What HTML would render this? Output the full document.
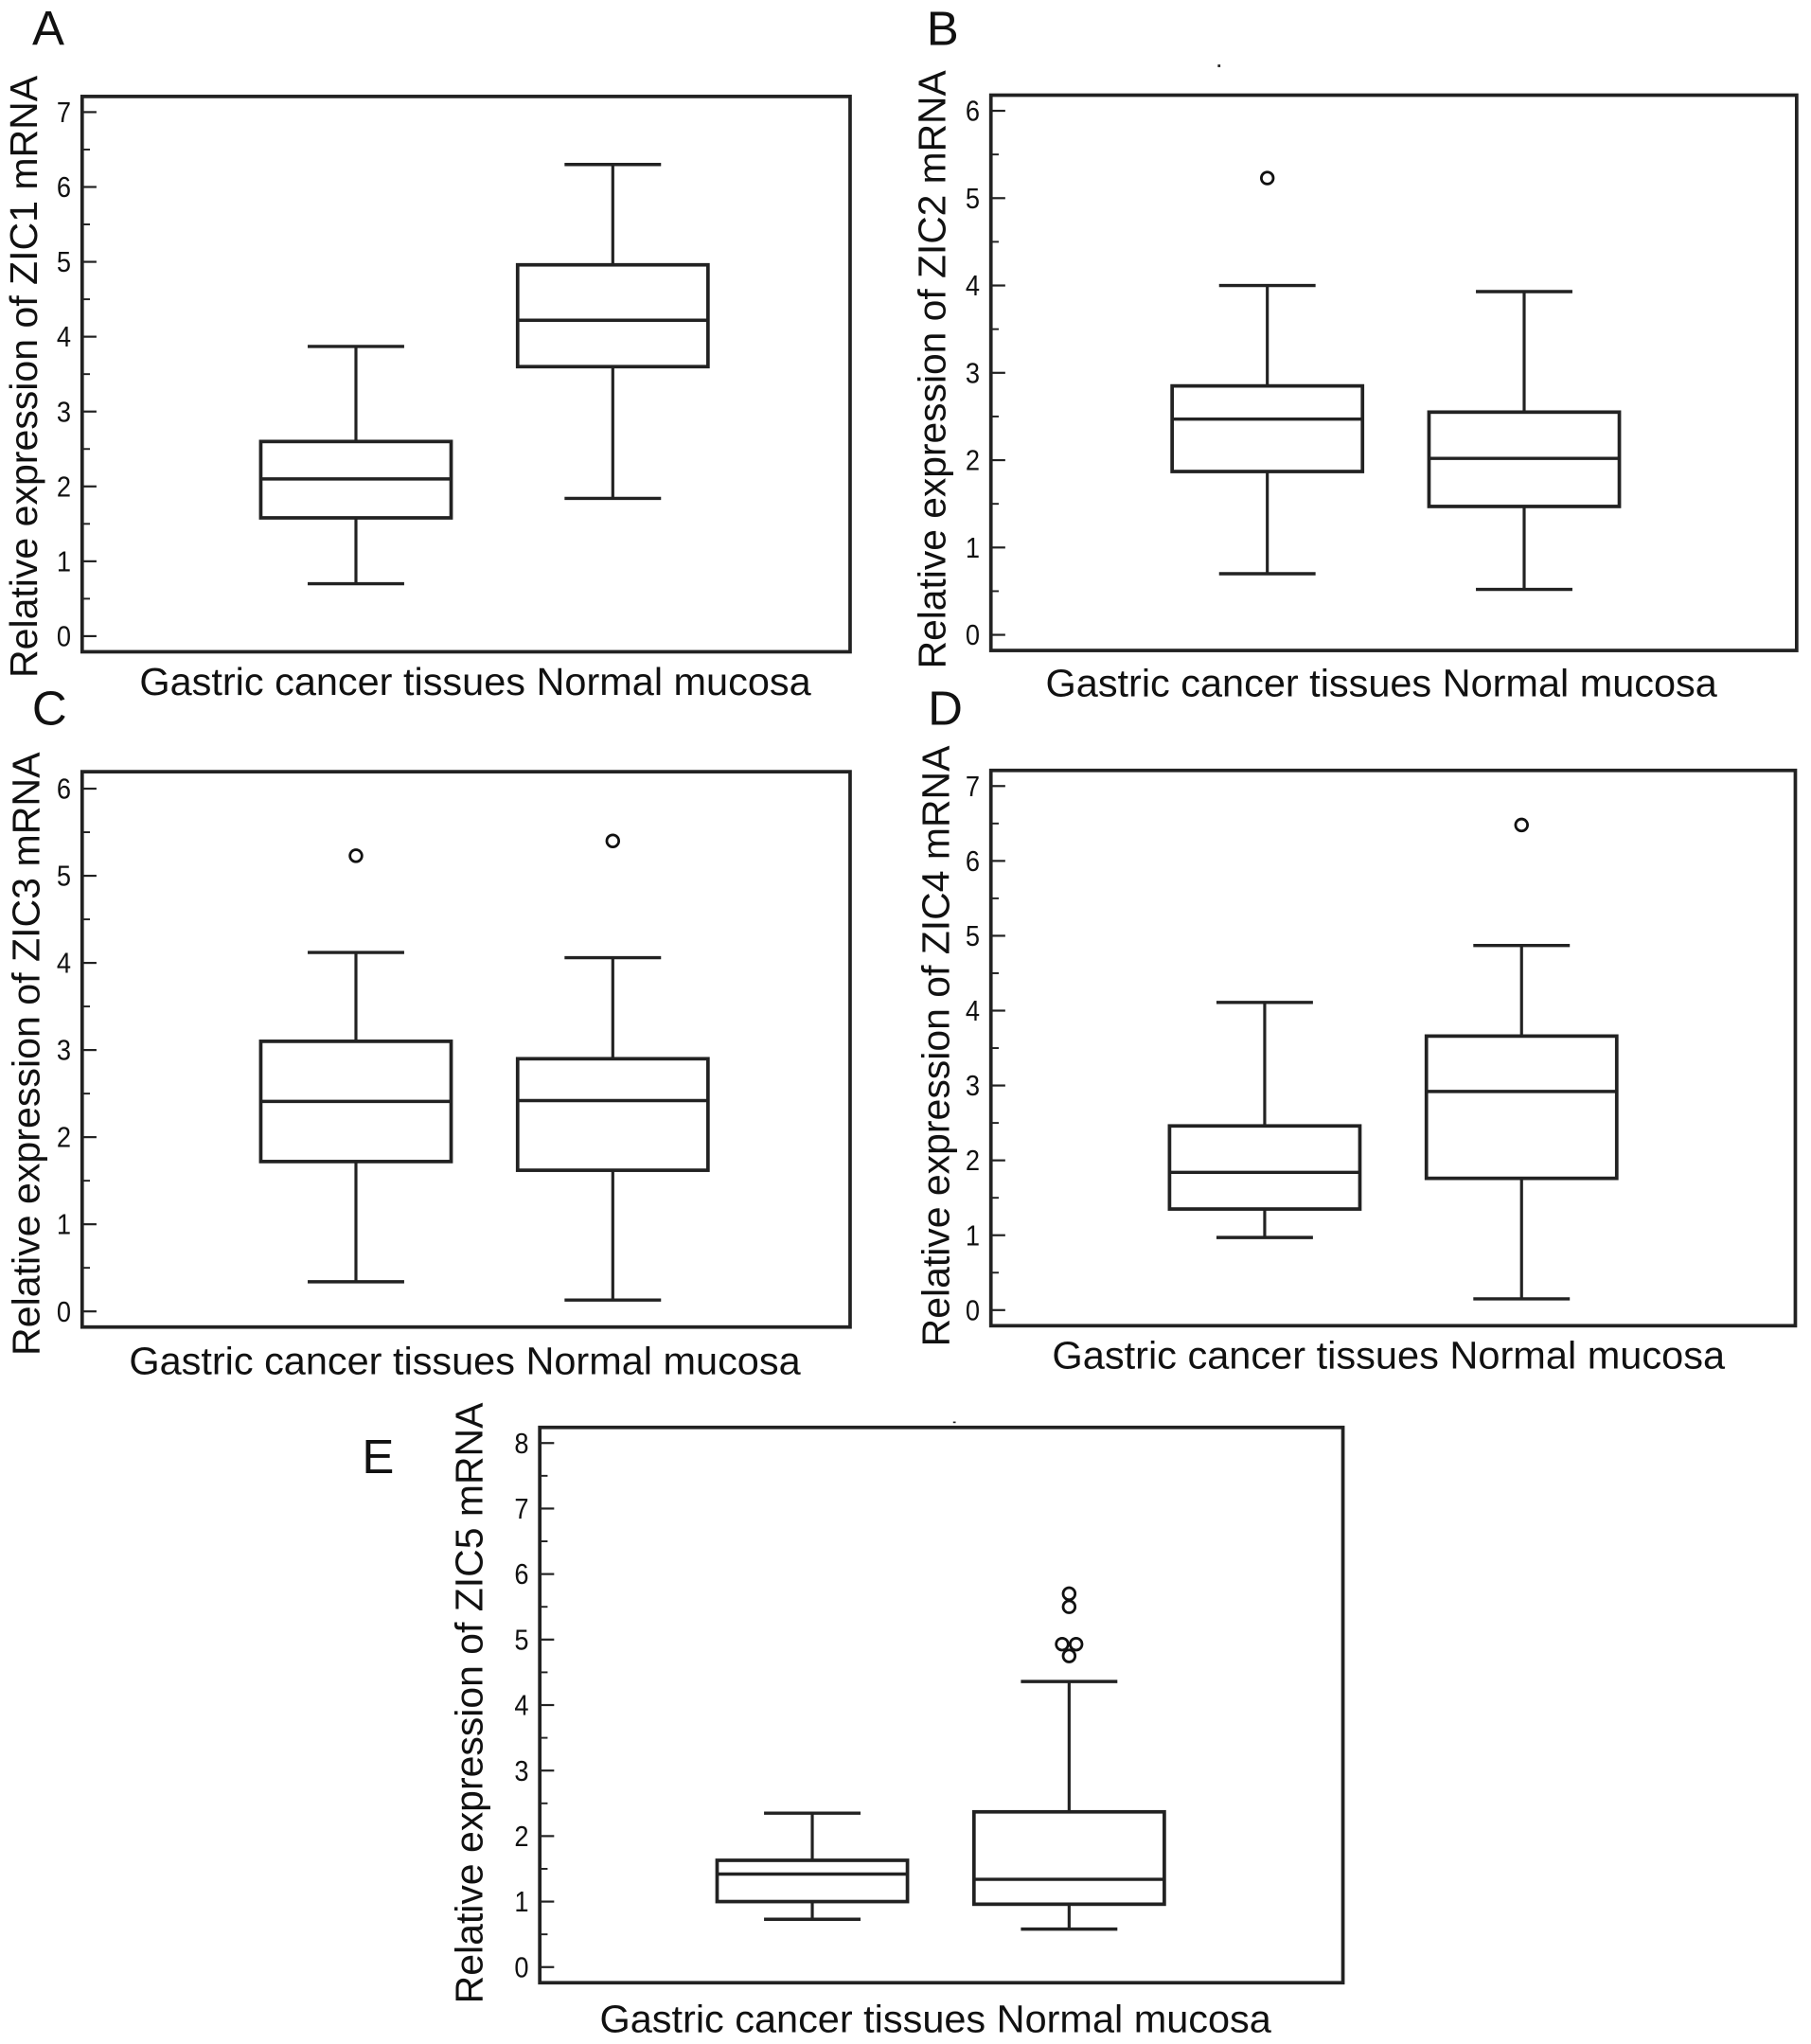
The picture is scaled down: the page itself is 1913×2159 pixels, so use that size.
<!DOCTYPE html>
<html lang="en">
<head>
<meta charset="utf-8">
<title>ZIC family mRNA expression box plots</title>
<style>
html,body{margin:0;padding:0;background:#fff;width:1913px;height:2159px;overflow:hidden}
svg{display:block}
text{font-family:"Liberation Sans",Arial,sans-serif;fill:#111}
</style>
</head>
<body>
<svg id="figure" xmlns="http://www.w3.org/2000/svg" width="1913" height="2159" viewBox="0 0 1389 1568" preserveAspectRatio="none"></svg>
<script>
// ---- data ----
const categories = ["Gastric cancer tissues", "Normal mucosa"];

const ticksA = [0, 1, 2, 3, 4, 5, 6, 7];
const minA = [0.70, 1.84];
const q1A = [1.58, 3.60];
const medianA = [2.10, 4.22];
const q3A = [2.60, 4.96];
const maxA = [3.87, 6.30];
const outliersA = [[], []];

const ticksB = [0, 1, 2, 3, 4, 5, 6];
const minB = [0.70, 0.52];
const q1B = [1.87, 1.47];
const medianB = [2.47, 2.02];
const q3B = [2.85, 2.55];
const maxB = [4.00, 3.93];
const outliersB = [[5.23], []];

const ticksC = [0, 1, 2, 3, 4, 5, 6];
const minC = [0.34, 0.13];
const q1C = [1.72, 1.62];
const medianC = [2.41, 2.42];
const q3C = [3.10, 2.90];
const maxC = [4.12, 4.06];
const outliersC = [[5.23], [5.40]];

const ticksD = [0, 1, 2, 3, 4, 5, 6, 7];
const minD = [0.97, 0.15];
const q1D = [1.35, 1.76];
const medianD = [1.84, 2.92];
const q3D = [2.46, 3.66];
const maxD = [4.11, 4.87];
const outliersD = [[], [6.48]];

const ticksE = [0, 1, 2, 3, 4, 5, 6, 7, 8];
const minE = [0.73, 0.58];
const q1E = [1.00, 0.96];
const medianE = [1.42, 1.34];
const q3E = [1.63, 2.37];
const maxE = [2.35, 4.36];
const outliersE = [[], [4.75, 4.93, 4.93, 5.50, 5.70]];

const panels = [
  {id:"a", letter:"A", gene:"ZIC1", ticks:ticksA, min:minA, q1:q1A, med:medianA, q3:q3A, max:maxA, out:outliersA,
   left:63, right:652, top:74, bottom:500, y0:488, yTop:86, cx:[273,470], letterX:37, letterY:34.5,
   yLabelX:28.5, yLabelStart:520, yLabelEnd:58, xLabelStart:107, xLabelEnd:622, xLabelY:533},
  {id:"b", letter:"B", gene:"ZIC2", ticks:ticksB, min:minB, q1:q1B, med:medianB, q3:q3B, max:maxB, out:outliersB,
   left:760, right:1378, top:73, bottom:499, y0:487, yTop:85, cx:[972,1169], letterX:723, letterY:34.5,
   yLabelX:725, yLabelStart:513, yLabelEnd:54, xLabelStart:802, xLabelEnd:1317, xLabelY:534},
  {id:"c", letter:"C", gene:"ZIC3", ticks:ticksC, min:minC, q1:q1C, med:medianC, q3:q3C, max:maxC, out:outliersC,
   left:63, right:652, top:592, bottom:1018, y0:1006, yTop:605, cx:[273,470], letterX:38, letterY:556,
   yLabelX:30, yLabelStart:1040, yLabelEnd:577, xLabelStart:99, xLabelEnd:614, xLabelY:1054},
  {id:"d", letter:"D", gene:"ZIC4", ticks:ticksD, min:minD, q1:q1D, med:medianD, q3:q3D, max:maxD, out:outliersD,
   left:760, right:1377, top:591, bottom:1017, y0:1005, yTop:603, cx:[970,1167], letterX:725, letterY:556,
   yLabelX:728, yLabelStart:1033, yLabelEnd:572, xLabelStart:807, xLabelEnd:1323, xLabelY:1050},
  {id:"e", letter:"E", gene:"ZIC5", ticks:ticksE, min:minE, q1:q1E, med:medianE, q3:q3E, max:maxE, out:outliersE,
   left:414, right:1030, top:1095, bottom:1521, y0:1509, yTop:1107, cx:[623,820], letterX:290, letterY:1130,
   yLabelX:370, yLabelStart:1537, yLabelEnd:1076, xLabelStart:460, xLabelEnd:975, xLabelY:1559}
];

// ---- drawing ----
const SVG_NS = "http://www.w3.org/2000/svg";
const INK = "#222";
const BOX_HALF = 73;
const CAP_HALF = 37;
const figure = document.getElementById("figure");

function make(tag, parent, attrs) {
  const el = document.createElementNS(SVG_NS, tag);
  for (const k in attrs) el.setAttribute(k, attrs[k]);
  parent.appendChild(el);
  return el;
}
function seg(parent, x1, y1, x2, y2, w) {
  return make("line", parent, {x1:x1, y1:y1, x2:x2, y2:y2, stroke:INK, "stroke-width":w});
}

function drawPanel(p) {
  const maxTick = p.ticks[p.ticks.length - 1];
  const yScale = v => p.y0 + (p.yTop - p.y0) * v / maxTick;

  const g = make("g", figure, {});
  
  

  const letter = make("text", g, {x:p.letterX, y:p.letterY, "text-anchor":"middle", "font-size":37});
  letter.textContent = p.letter;
  
  

  const frame = make("rect", g, {x:p.left, y:p.top, width:p.right - p.left, height:p.bottom - p.top, fill:"#fff", stroke:INK, "stroke-width":2.7});
  
  

  p.ticks.forEach(function (t, i) {
    const y = yScale(t);
    const tick = seg(g, p.left, y, p.left + 11, y, 1.6);
    
    

    const label = make("text", g, {x:p.left - 14, y:y + 7.7, "text-anchor":"middle", "font-size":22, textLength:11, lengthAdjust:"spacingAndGlyphs"});
    label.textContent = String(t);
    
    

    if (i < p.ticks.length - 1) {
      const yMinor = yScale((t + p.ticks[i + 1]) / 2);
      const minor = seg(g, p.left, yMinor, p.left + 6, yMinor, 1.4);
      
      
    }
  });

  const yLabelMid = (p.yLabelStart + p.yLabelEnd) / 2;
  const yLabel = make("text", g, {x:p.yLabelX, y:yLabelMid, "text-anchor":"middle", "font-size":29.5,
    transform:"rotate(-90 " + p.yLabelX + " " + yLabelMid + ")",
    textLength:p.yLabelStart - p.yLabelEnd, lengthAdjust:"spacingAndGlyphs"});
  yLabel.textContent = "Relative expression of " + p.gene + " mRNA";
  
  

  const xLabel = make("text", g, {x:p.xLabelStart, y:p.xLabelY, "font-size":29.5,
    textLength:p.xLabelEnd - p.xLabelStart, lengthAdjust:"spacingAndGlyphs"});
  xLabel.textContent = categories.join(" ");
  
  

  categories.forEach(function (cat, i) {
    const cx = p.cx[i];
    const box = make("g", g, {});
    
    

    const whiskerLow = seg(box, cx, yScale(p.q1[i]), cx, yScale(p.min[i]), 2.3);
    
    

    const whiskerHigh = seg(box, cx, yScale(p.q3[i]), cx, yScale(p.max[i]), 2.3);
    
    

    const capLow = seg(box, cx - CAP_HALF, yScale(p.min[i]), cx + CAP_HALF, yScale(p.min[i]), 2.5);
    
    

    const capHigh = seg(box, cx - CAP_HALF, yScale(p.max[i]), cx + CAP_HALF, yScale(p.max[i]), 2.5);
    
    

    const rect = make("rect", box, {x:cx - BOX_HALF, y:yScale(p.q3[i]), width:BOX_HALF * 2,
      height:yScale(p.q1[i]) - yScale(p.q3[i]), fill:"#fff", stroke:INK, "stroke-width":2.7});
    
    

    const median = seg(box, cx - BOX_HALF, yScale(p.med[i]), cx + BOX_HALF, yScale(p.med[i]), 2.5);
    
    

    p.out[i].forEach(function (v, k, arr) {
      const twins = arr.filter(o => o === v).length;
      const rank = arr.slice(0, k).filter(o => o === v).length;
      const dx = twins > 1 ? (rank - (twins - 1) / 2) * 10.7 : 0;
      const dot = make("circle", box, {cx:cx + dx, cy:yScale(v), r:4.6, fill:"none", stroke:"#111", "stroke-width":2});
      
      
    });
  });
}

panels.forEach(drawPanel);

const speckOne = make("rect", figure, {x:934, y:49.5, width:2, height:2, fill:INK});


const speckTwo = make("rect", figure, {x:731, y:1090.5, width:2, height:1.2, fill:INK});


</script>
</body>
</html>
